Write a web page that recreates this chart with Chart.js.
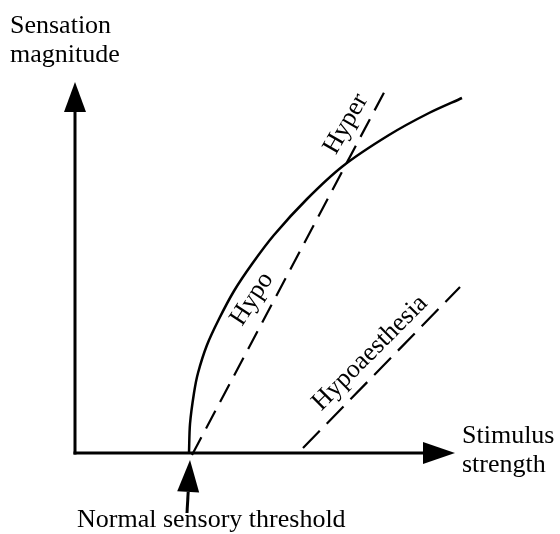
<!DOCTYPE html>
<html><head><meta charset="utf-8">
<script src="https://cdn.jsdelivr.net/npm/chart.js@4/dist/chart.umd.min.js"></script>
<style>html,body{margin:0;padding:0;background:#fff}canvas{display:block}</style>
</head><body>
<canvas id="c" width="560" height="534"></canvas>
<script>
// Normal sensation curve (stimulus, sensation)
const curveX = [189, 190, 194, 198, 207, 219, 234, 252, 274, 307, 343, 389, 429, 462];
const curveY = [81, 110, 141, 161, 189, 215, 243, 270, 299, 335, 368, 399, 421, 436];
// Hypo/Hyper dashed line
const hyperX = [192, 388];
const hyperY = [79, 449];
// Hypoaesthesia dashed line
const hypoaX = [303, 460];
const hypoaY = [86, 247];
// Axes
const axisOrigin = [75, 81];
const xAxisEnd = [455, 81];
const yAxisEnd = [75, 452];
const thresholdArrow = [[187, 21], [190, 74]];
// Labels
const axisYLabel = ["Sensation", "magnitude"];
const axisXLabel = ["Stimulus", "strength"];
const thresholdLabel = "Normal sensory threshold";
const curveLabels = [
  {text: "Hyper", x: 346, y: 410, angle: -60},
  {text: "Hypo", x: 252, y: 235, angle: -57},
  {text: "Hypoaesthesia", x: 370, y: 181, angle: -45}
];

const pts = (xs, ys) => xs.map((x, i) => ({x, y: ys[i]}));
const FONT = '26px "Liberation Serif", "Times New Roman", serif';

function arrow(ctx, x0, y0, x1, y1, len, half) {
  const a = Math.atan2(y1 - y0, x1 - x0);
  const bx = x1 - len * Math.cos(a), by = y1 - len * Math.sin(a);
  ctx.beginPath();
  ctx.moveTo(x0, y0); ctx.lineTo(bx, by); ctx.stroke();
  ctx.beginPath();
  ctx.moveTo(x1, y1);
  ctx.lineTo(bx + half * Math.sin(a), by - half * Math.cos(a));
  ctx.lineTo(bx - half * Math.sin(a), by + half * Math.cos(a));
  ctx.closePath(); ctx.fill();
}

const deco = {
  id: 'deco',
  afterDraw(chart) {
    const ctx = chart.ctx, sx = chart.scales.x, sy = chart.scales.y;
    const P = (p) => [sx.getPixelForValue(p[0]), sy.getPixelForValue(p[1])];
    ctx.save();
    ctx.strokeStyle = '#000'; ctx.fillStyle = '#000';
    ctx.lineWidth = 3; ctx.lineCap = 'butt';
    const o = P(axisOrigin), xe = P(xAxisEnd), ye = P(yAxisEnd);
    arrow(ctx, o[0] - 1.5, o[1], xe[0], xe[1], 32, 11);
    arrow(ctx, o[0], o[1] + 1.5, ye[0], ye[1], 30, 11);
    const t0 = P(thresholdArrow[0]), t1 = P(thresholdArrow[1]);
    arrow(ctx, t0[0], t0[1], t1[0], t1[1], 32, 11);
    ctx.font = FONT; ctx.textBaseline = 'alphabetic';
    ctx.textAlign = 'left';
    ctx.fillText(axisYLabel[0], 10, 33);
    ctx.fillText(axisYLabel[1], 10, 62);
    ctx.fillText(axisXLabel[0], 462, 443);
    ctx.fillText(axisXLabel[1], 462, 472);
    ctx.fillText(thresholdLabel, 77, 527);
    ctx.textAlign = 'center';
    ctx.textBaseline = 'middle';
    curveLabels.forEach(l => {
      const p = P([l.x, l.y]);
      ctx.save(); ctx.translate(p[0], p[1]); ctx.rotate(l.angle * Math.PI / 180);
      ctx.strokeStyle = '#fff'; ctx.lineWidth = 5; ctx.lineJoin = 'round';
      ctx.strokeText(l.text, 0, 0);
      ctx.fillText(l.text, 0, 0); ctx.restore();
    });
    ctx.restore();
  }
};

new Chart(document.getElementById('c'), {
  type: 'scatter',
  data: {
    datasets: [
      {data: pts(curveX, curveY), showLine: true, borderColor: '#000', borderWidth: 2.5, pointRadius: 0, tension: 0.3, fill: false},
      {data: pts(hyperX, hyperY), showLine: true, borderColor: '#000', borderWidth: 2.2, borderDash: [20, 10], pointRadius: 0},
      {data: pts(hypoaX, hypoaY), showLine: true, borderColor: '#000', borderWidth: 2.2, borderDash: [24, 10], pointRadius: 0}
    ]
  },
  options: {
    responsive: false, animation: false,
    layout: {padding: 0},
    plugins: {legend: {display: false}, tooltip: {enabled: false}},
    scales: {
      x: {type: 'linear', min: 0, max: 560, display: false},
      y: {type: 'linear', min: 0, max: 534, display: false}
    }
  },
  plugins: [deco]
});
</script>
</body></html>
